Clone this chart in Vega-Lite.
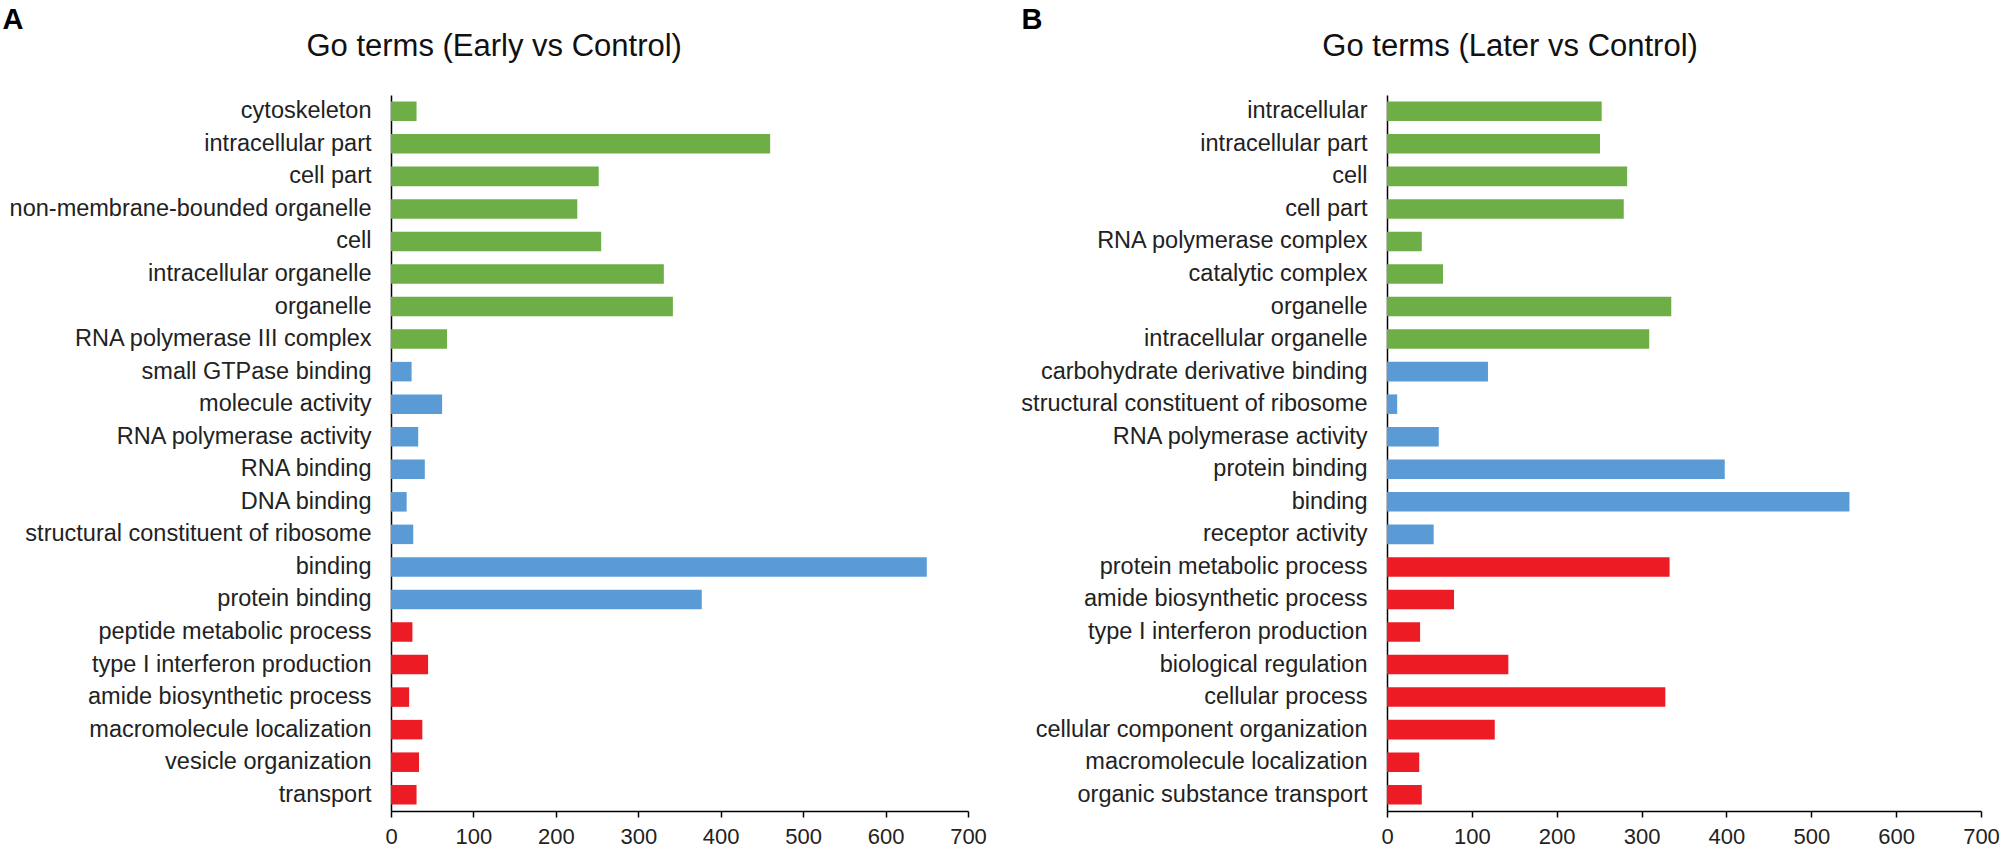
{
  "$schema": "https://vega.github.io/schema/vega-lite/v6.json",
  "background": "white",
  "padding": {"left": 2, "top": 5, "right": 5, "bottom": 5},
  "config": {
    "font": "Liberation Sans",
    "view": {"stroke": null},
    "concat": {"spacing": 33},
    "title": {"fontSize": 31, "fontWeight": "normal", "color": "#111111", "baseline": "alphabetic", "offset": -58, "anchor": "middle", "frame": "bounds"},
    "axisX": {"grid": false, "domainColor": "#000000", "domainWidth": 1.5, "tickColor": "#000000", "tickWidth": 1.5, "tickSize": 6, "labelFontSize": 22, "labelColor": "#222222", "labelPadding": 9, "labelFlush": false, "labelOverlap": false},
    "axisY": {"grid": false, "domainColor": "#000000", "domainWidth": 1.5, "ticks": false, "tickSize": 0, "labelFontSize": 23.5, "labelColor": "#222222", "labelPadding": 20, "labelLimit": 0, "titleAngle": 0, "titleAlign": "left", "titleBaseline": "top", "titleFontSize": 29, "titleFontWeight": "bold", "titleColor": "#000000"}
  },
  "datasets": {
    "early": [
      {"term": "cytoskeleton", "count": 31, "category": "CC"},
      {"term": "intracellular part", "count": 460, "category": "CC"},
      {"term": "cell part", "count": 252, "category": "CC"},
      {"term": "non-membrane-bounded organelle", "count": 226, "category": "CC"},
      {"term": "cell", "count": 255, "category": "CC"},
      {"term": "intracellular organelle", "count": 331, "category": "CC"},
      {"term": "organelle", "count": 342, "category": "CC"},
      {"term": "RNA polymerase III complex", "count": 68, "category": "CC"},
      {"term": "small GTPase binding", "count": 25, "category": "MF"},
      {"term": "molecule activity", "count": 62, "category": "MF"},
      {"term": "RNA polymerase activity", "count": 33, "category": "MF"},
      {"term": "RNA binding", "count": 41, "category": "MF"},
      {"term": "DNA binding", "count": 19, "category": "MF"},
      {"term": "structural constituent of ribosome", "count": 27, "category": "MF"},
      {"term": "binding", "count": 650, "category": "MF"},
      {"term": "protein binding", "count": 377, "category": "MF"},
      {"term": "peptide metabolic process", "count": 26, "category": "BP"},
      {"term": "type I interferon production", "count": 45, "category": "BP"},
      {"term": "amide biosynthetic process", "count": 22, "category": "BP"},
      {"term": "macromolecule localization", "count": 38, "category": "BP"},
      {"term": "vesicle organization", "count": 34, "category": "BP"},
      {"term": "transport", "count": 31, "category": "BP"}
    ],
    "later": [
      {"term": "intracellular", "count": 253, "category": "CC"},
      {"term": "intracellular part", "count": 251, "category": "CC"},
      {"term": "cell", "count": 283, "category": "CC"},
      {"term": "cell part", "count": 279, "category": "CC"},
      {"term": "RNA polymerase complex", "count": 41, "category": "CC"},
      {"term": "catalytic complex", "count": 66, "category": "CC"},
      {"term": "organelle", "count": 335, "category": "CC"},
      {"term": "intracellular organelle", "count": 309, "category": "CC"},
      {"term": "carbohydrate derivative binding", "count": 119, "category": "MF"},
      {"term": "structural constituent of ribosome", "count": 12, "category": "MF"},
      {"term": "RNA polymerase activity", "count": 61, "category": "MF"},
      {"term": "protein binding", "count": 398, "category": "MF"},
      {"term": "binding", "count": 545, "category": "MF"},
      {"term": "receptor activity", "count": 55, "category": "MF"},
      {"term": "protein metabolic process", "count": 333, "category": "BP"},
      {"term": "amide biosynthetic process", "count": 79, "category": "BP"},
      {"term": "type I interferon production", "count": 39, "category": "BP"},
      {"term": "biological regulation", "count": 143, "category": "BP"},
      {"term": "cellular process", "count": 328, "category": "BP"},
      {"term": "cellular component organization", "count": 127, "category": "BP"},
      {"term": "macromolecule localization", "count": 38, "category": "BP"},
      {"term": "organic substance transport", "count": 41, "category": "BP"}
    ]
  },
  "hconcat": [
    {
      "data": {"name": "early"},
      "title": "Go terms (Early vs Control)",
      "width": 577,
      "height": 716,
      "mark": {"type": "bar"},
      "encoding": {
        "y": {"field": "term", "type": "nominal", "sort": null, "scale": {"paddingInner": 0.4, "paddingOuter": 0.2}, "axis": {"title": "A", "titleX": -389, "titleY": -90}},
        "x": {"field": "count", "type": "quantitative", "scale": {"domain": [0, 700], "nice": false}, "axis": {"title": null, "values": [0, 100, 200, 300, 400, 500, 600, 700]}},
        "color": {"field": "category", "type": "nominal", "scale": {"domain": ["CC", "MF", "BP"], "range": ["#6DAE47", "#5B9BD5", "#ED1C24"]}, "legend": null}
      }
    },
    {
      "data": {"name": "later"},
      "title": "Go terms (Later vs Control)",
      "width": 594,
      "height": 716,
      "mark": {"type": "bar"},
      "encoding": {
        "y": {"field": "term", "type": "nominal", "sort": null, "scale": {"paddingInner": 0.4, "paddingOuter": 0.2}, "axis": {"title": "B", "titleX": -366, "titleY": -90}},
        "x": {"field": "count", "type": "quantitative", "scale": {"domain": [0, 700], "nice": false}, "axis": {"title": null, "values": [0, 100, 200, 300, 400, 500, 600, 700]}},
        "color": {"field": "category", "type": "nominal", "scale": {"domain": ["CC", "MF", "BP"], "range": ["#6DAE47", "#5B9BD5", "#ED1C24"]}, "legend": null}
      }
    }
  ]
}
